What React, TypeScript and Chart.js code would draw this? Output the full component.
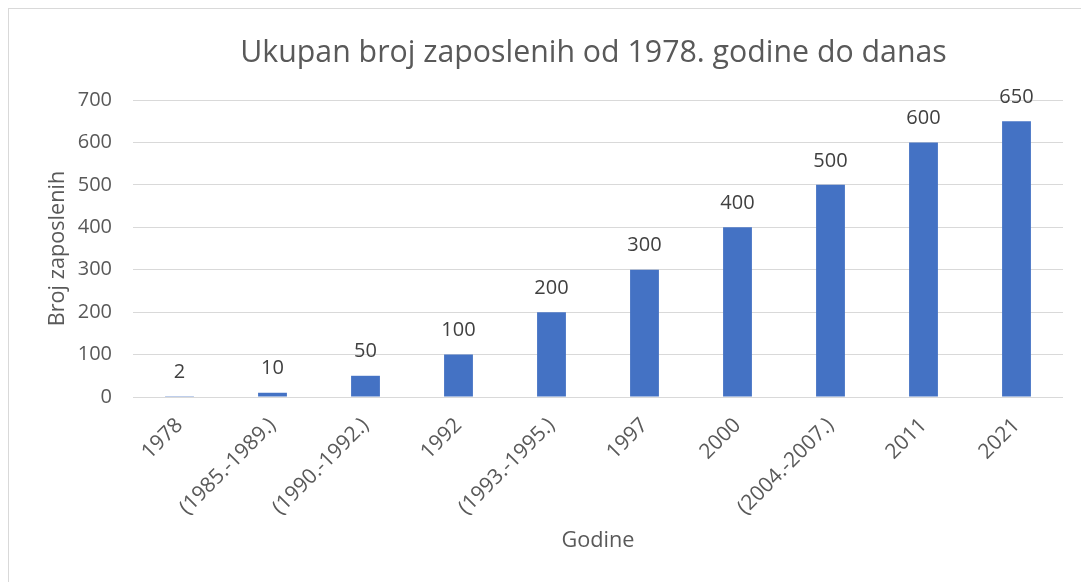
import React, { useEffect, useRef } from "react";
import { Chart, registerables } from "chart.js";

Chart.register(...registerables);

const categories = [
  "1978",
  "(1985.-1989.)",
  "(1990.-1992.)",
  "1992",
  "(1993.-1995.)",
  "1997",
  "2000",
  "(2004.-2007.)",
  "2011",
  "2021",
];
const employees = [2, 10, 50, 100, 200, 300, 400, 500, 600, 650];
const chartTitle = "Ukupan broj zaposlenih od 1978. godine do danas";
const xTitle = "Godine";
const yTitle = "Broj zaposlenih";

const FONT = "'Open Sans', 'Noto Sans', sans-serif";

const dataLabels = {
  id: "dataLabels",
  afterDatasetsDraw(chart: any) {
    const ctx = chart.ctx;
    const meta = chart.getDatasetMeta(0);
    const ds = chart.data.datasets[0];
    ctx.save();
    ctx.font = `20px ${FONT}`;
    ctx.fillStyle = "#404040";
    ctx.textAlign = "center";
    ctx.textBaseline = "middle";
    meta.data.forEach((bar: any, i: number) => {
      ctx.fillText(String(ds.data[i]), bar.x, bar.y - 24);
    });
    ctx.restore();
  },
};

const titlePlugin = {
  id: "customTitle",
  afterDraw(chart: any) {
    const ctx = chart.ctx;
    const area = chart.chartArea;
    ctx.save();
    ctx.font = `30.3px ${FONT}`;
    ctx.fillStyle = "#595959";
    ctx.textAlign = "center";
    ctx.textBaseline = "alphabetic";
    ctx.fillText(chartTitle, (area.left + area.right) / 2 - 4.5, 62);
    ctx.restore();
  },
};

export default function App() {
  const ref = useRef<HTMLCanvasElement | null>(null);
  useEffect(() => {
    if (!ref.current) return;
    const chart = new Chart(ref.current, {
      type: "bar",
      data: {
        labels: categories,
        datasets: [
          {
            data: employees,
            backgroundColor: "#4472C4",
            barPercentage: 0.31,
            categoryPercentage: 1,
          },
        ],
      },
      options: {
        responsive: false,
        animation: false,
        devicePixelRatio: 1,
        layout: { padding: { left: 45, right: 18, top: 100, bottom: 28 } },
        plugins: {
          legend: { display: false },
          tooltip: { enabled: false },
          title: { display: false },
        },
        scales: {
          x: {
            grid: { display: false, drawTicks: false },
            border: { display: false },
            ticks: {
              color: "#595959",
              font: { family: FONT, size: 21 },
              autoSkip: false,
              minRotation: 45,
              maxRotation: 45,
              padding: 16,
            },
            title: {
              display: true,
              text: xTitle,
              color: "#595959",
              font: { family: FONT, size: 21.7, lineHeight: 1.2 },
              padding: 0,
            },
            afterFit(scale: any) {
              scale.height = 157;
            },
          },
          y: {
            min: 0,
            max: 700,
            ticks: {
              stepSize: 100,
              color: "#595959",
              font: { family: FONT, size: 20 },
              padding: 21,
            },
            grid: { color: "#d9d9d9", lineWidth: 1, drawTicks: false },
            border: { display: false },
            title: {
              display: true,
              text: yTitle,
              color: "#595959",
              font: { family: FONT, size: 21.7, lineHeight: 1.2 },
              padding: 0,
            },
            afterFit(scale: any) {
              scale.width = 88;
            },
          },
        },
      },
      plugins: [dataLabels, titlePlugin],
    });
    return () => chart.destroy();
  }, []);
  return (
    <>
      <div
        style={{
          position: "fixed",
          left: 8,
          top: 8,
          width: 1073,
          height: 574,
          boxSizing: "border-box",
          borderLeft: "1px solid #d9d9d9",
          borderTop: "1px solid #d9d9d9",
        }}
      />
      <canvas
        ref={ref}
        width={1081}
        height={582}
        style={{ position: "fixed", left: 0, top: 0, width: 1081, height: 582 }}
      />
    </>
  );
}
